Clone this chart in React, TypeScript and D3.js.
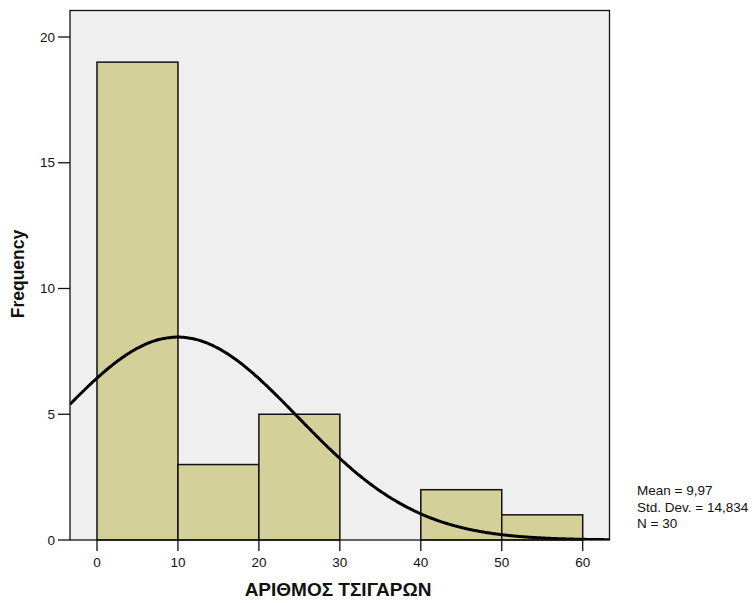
import React from "react";
import * as d3 from "d3";

// Histogram bins (lower edge, upper edge) and counts
const binEdges: [number, number][] = [
  [0, 10],
  [10, 20],
  [20, 30],
  [30, 40],
  [40, 50],
  [50, 60],
];
const binCounts = [19, 3, 5, 0, 2, 1];
const xTicks = [0, 10, 20, 30, 40, 50, 60];
const yTicks = [0, 5, 10, 15, 20];
const stats = { mean: 9.97, sd: 14.834, n: 30 };
const statLines = ["Mean = 9,97", "Std. Dev. = 14,834", "N = 30"];

const W = 756;
const H = 603;
const plot = { left: 70, right: 609.5, top: 10.5, bottom: 540 };

export default function App() {
  const x = d3.scaleLinear().domain([0, 60]).range([97, 582.7]);
  const y = d3.scaleLinear().domain([0, 20]).range([plot.bottom, 37]);
  const xMin = x.invert(plot.left);
  const xMax = x.invert(plot.right);

  const binWidth = 10;
  const scale = stats.n * binWidth;
  const normal = (v: number) =>
    (scale / (stats.sd * Math.sqrt(2 * Math.PI))) *
    Math.exp(-0.5 * ((v - stats.mean) / stats.sd) ** 2);
  const curvePts = d3.range(0, 301).map((i) => {
    const v = xMin + ((xMax - xMin) * i) / 300;
    return [v, normal(v)] as [number, number];
  });
  const line = d3
    .line<[number, number]>()
    .x((d) => x(d[0]))
    .y((d) => y(d[1]))
    .curve(d3.curveBasis);

  const font = "Arial, 'Liberation Sans', Helvetica, sans-serif";

  return (
    <svg
      width={W}
      height={H}
      style={{ position: "absolute", left: 0, top: 0, background: "#fff" }}
      fontFamily={font}
    >
      <defs>
        <clipPath id="plotClip">
          <rect
            x={plot.left}
            y={plot.top}
            width={plot.right - plot.left}
            height={plot.bottom - plot.top}
          />
        </clipPath>
      </defs>
      <rect
        x={plot.left}
        y={plot.top}
        width={plot.right - plot.left}
        height={plot.bottom - plot.top}
        fill="#efefef"
      />
      {binEdges.map(([a, b], i) =>
        binCounts[i] > 0 ? (
          <rect
            key={i}
            x={x(a)}
            y={y(binCounts[i])}
            width={x(b) - x(a)}
            height={y(0) - y(binCounts[i])}
            fill="#d3d09a"
            stroke="#111"
            strokeWidth={1.5}
          />
        ) : null
      )}
      <path
        d={line(curvePts) || ""}
        fill="none"
        stroke="#000"
        strokeWidth={3}
        clipPath="url(#plotClip)"
      />
      <rect
        x={plot.left}
        y={plot.top}
        width={plot.right - plot.left}
        height={plot.bottom - plot.top}
        fill="none"
        stroke="#111"
        strokeWidth={1.3}
      />
      {/* y axis ticks */}
      {yTicks.map((t) => (
        <g key={t}>
          <line
            x1={58}
            x2={plot.left}
            y1={y(t)}
            y2={y(t)}
            stroke="#111"
            strokeWidth={1.3}
          />
          <text
            x={55}
            y={y(t)}
            dy="0.35em"
            textAnchor="end"
            fontSize={13.5}
            fill="#111"
          >
            {t}
          </text>
        </g>
      ))}
      {/* x axis ticks */}
      {xTicks.map((t) => (
        <g key={t}>
          <line
            x1={x(t)}
            x2={x(t)}
            y1={plot.bottom}
            y2={plot.bottom + 11}
            stroke="#111"
            strokeWidth={1.3}
          />
          <text
            x={x(t)}
            y={567}
            textAnchor="middle"
            fontSize={13.5}
            fill="#111"
          >
            {t}
          </text>
        </g>
      ))}
      <text
        x={338}
        y={596}
        textAnchor="middle"
        fontSize={19}
        fontWeight="bold"
        fill="#111"
      >
        ΑΡΙΘΜΟΣ ΤΣΙΓΑΡΩΝ
      </text>
      <text
        transform="translate(24,274) rotate(-90)"
        textAnchor="middle"
        fontSize={17.5}
        fontWeight="bold"
        fill="#111"
      >
        Frequency
      </text>
      {statLines.map((s, i) => (
        <text key={i} x={637} y={495 + i * 16.5} fontSize={13.5} fill="#111">
          {s}
        </text>
      ))}
    </svg>
  );
}
